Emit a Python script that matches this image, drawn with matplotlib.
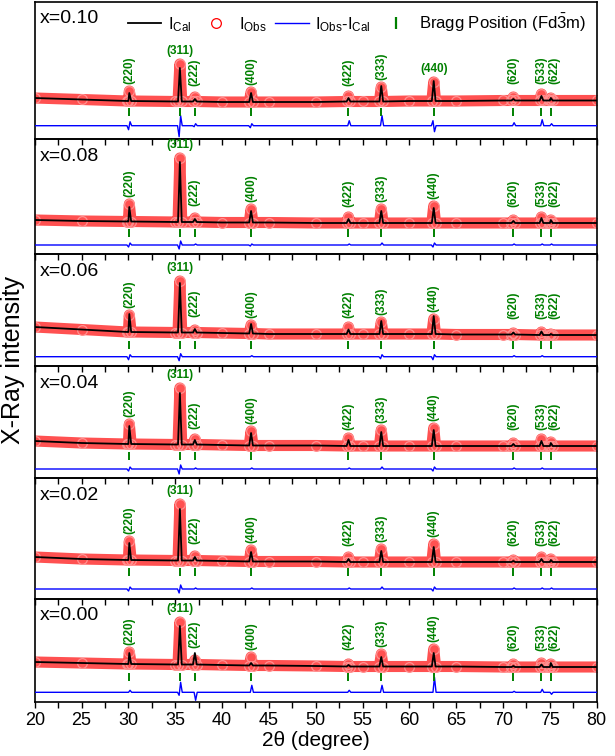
import numpy as np
import matplotlib
matplotlib.use('Agg')
import matplotlib.pyplot as plt
from matplotlib.lines import Line2D
from matplotlib.ticker import MultipleLocator

plt.rcParams['font.family'] = ['Liberation Sans', 'DejaVu Sans']
plt.rcParams['mathtext.fontset'] = 'custom'
plt.rcParams['mathtext.rm'] = 'Liberation Sans'
plt.rcParams['mathtext.it'] = 'Liberation Sans:italic'

# ---- data (intensity in arbitrary units) ----
compositions = ['x=0.10', 'x=0.08', 'x=0.06', 'x=0.04', 'x=0.02', 'x=0.00']

hkl = ['(220)', '(311)', '(222)', '(400)', '(422)', '(333)', '(440)', '(620)', '(533)', '(622)']
bragg_pos = [30.1, 35.5, 37.1, 43.1, 53.5, 57.0, 62.6, 71.1, 74.1, 75.1]

bg_theta = [20, 25, 30, 35, 40, 45, 50, 55, 60, 65, 70, 75, 80]
background = [
    [41, 39.5, 38, 37.5, 37, 37, 37, 37.5, 38, 38, 38.5, 38.5, 38.5],
    [34, 33, 32.5, 32, 31.5, 31.5, 31, 31, 31, 31, 31, 31, 31],
    [39, 36.5, 34, 33.5, 33, 32, 32, 32, 32, 31.5, 31.5, 31, 31],
    [37, 35, 34, 33.5, 33, 32.5, 32.5, 32, 32, 32, 32, 32, 32],
    [42, 40, 39, 38.5, 38, 37.5, 37.5, 37, 37, 37, 37, 37, 37],
    [40, 39, 38, 37.5, 37, 36.5, 36, 35.5, 35.5, 35.5, 35, 35, 35],
]
# background level under each reflection
peak_base = [
    [38, 37.5, 37.5, 37, 37.5, 37.5, 38, 38.5, 38.5, 38.5],
    [32.5, 32, 32, 31.5, 31, 31, 31, 31, 31, 31],
    [34, 33.5, 33.5, 32.5, 32, 32, 32, 31.5, 31, 31],
    [34, 33.5, 33.5, 32.5, 32, 32, 32, 32, 32, 32],
    [39, 38.5, 38.5, 37.5, 37, 37, 37, 37, 37, 37],
    [38, 37.5, 37.5, 36.5, 35.5, 35.5, 35.5, 35, 35, 35],
]
calc_peak = [
    [46, 71, 40, 46, 41, 53, 58, 40, 43, 41],
    [47, 92, 35, 43, 35, 43, 46, 33, 36, 34],
    [52, 83, 37, 42, 36.5, 45, 50, 33.5, 34.5, 32],
    [52, 85, 38, 45, 38, 46, 48, 34, 37, 35],
    [56, 90, 42, 47, 40, 48, 52, 38, 40, 39],
    [49, 76, 49, 39, 37, 45, 49, 36, 37.5, 39],
]
obs_peak = [
    [48, 75, 42, 47, 43, 52, 57, 42, 45, 41],
    [50, 96, 36, 45, 37, 45, 48, 34, 37, 34],
    [51, 85, 36, 41, 39, 44, 47, 33, 34, 32],
    [54, 90, 39, 47, 40, 48, 50, 35, 39, 36],
    [58, 95, 43, 49, 42, 50, 55, 39, 42, 40],
    [50, 80, 42, 45, 38, 48, 53, 38, 39, 38],
]
diff_level = [13.3, 9, 9.3, 9, 10, 9.7]
diff_first = [
    [-4, -11, -1, -2, 0, 0, 5, 0, 0, 0],
    [-2, -4, 0, -1, 0, 0, -2, 0, 0, 0],
    [-3, -4, 0, 0, 0, -2, -3, 0, 0, 0],
    [-2, -5, 0, 0, 0, 0, -2, 0, 0, 0],
    [-2, -4, 0, 0, 0, 0, -2, 0, 0, 0],
    [0, -3, 0, 0, 0, 0, 0, 0, 0, 0],
]
diff_second = [
    [4, 10, 2, 2, 5, 10, -6, 3, 6, 2],
    [2, 4, 1, 1, 1, 2, 2, 1, 1, 1],
    [2, 3, 0, 1, 0, 2, 2, 1, 1, 0],
    [2, 4, 1, 1, 1, 2, 2, 1, 1, 0],
    [2, 4, 1, 1, 1, 2, 2, 1, 1, 1],
    [2, 10, -8, 7, 2, 7, 15, 1, 3, -2],
]

# ---- layout (pixel rows of the panel edges) ----
W, H = 615, 756
edges = [2, 139, 254, 366, 478, 599, 702]
left_px, right_px = 34.7, 596.7
green = '#008000'


def profile(bg_vals, base_vals, peak_vals, hw=0.2):
    x = list(bg_theta)
    y = list(bg_vals)
    for p, b, h in zip(bragg_pos, base_vals, peak_vals):
        x += [p - hw, p, p + hw]
        y += [b, h, b]
    order = np.argsort(x, kind='stable')
    return np.array(x)[order], np.array(y)[order]


def diff_profile(level, first, second):
    x = [20, 80]
    y = [level, level]
    for p, a, b in zip(bragg_pos, first, second):
        x += [p - 0.25, p - 0.08, p + 0.08, p + 0.25]
        y += [level, level + a, level + b, level]
    order = np.argsort(x, kind='stable')
    return np.array(x)[order], np.array(y)[order]


fig = plt.figure(figsize=(W / 100, H / 100), dpi=100)
axes = []
for i in range(6):
    top, bot = edges[i], edges[i + 1]
    ax = fig.add_axes([left_px / W, 1 - bot / H, (right_px - left_px) / W, (bot - top) / H])
    ax.set_facecolor('none')
    axes.append(ax)

    xo, yo = profile(background[i], peak_base[i], obs_peak[i])
    xc, yc = profile(background[i], peak_base[i], calc_peak[i])
    xd, yd = diff_profile(diff_level[i], diff_first[i], diff_second[i])

    # observed points: dense red band of open circles
    ax.plot(xo, yo, color='#ff2020', lw=8, alpha=0.78, solid_capstyle='butt', zorder=1)
    ax.plot(xo, yo, 'o', mfc='none', mec='#ff9090', ms=7, mew=0.9, zorder=2)
    ax.plot(xc, yc, color='black', lw=1.3, zorder=3)
    ax.plot(xd, yd, color='blue', lw=1.0, zorder=3)

    tick_y = min(background[i]) - 10
    ax.plot(bragg_pos, [tick_y] * len(bragg_pos), '|', color=green, ms=6, mew=1.4, zorder=3)

    for j, (p, lab) in enumerate(zip(bragg_pos, hkl)):
        horizontal = lab == '(311)' or (lab == '(440)' and i == 0)
        anchor = max(obs_peak[i][j], peak_base[i][j] + 9)
        dx = 0.35 if lab == '(622)' else 0.0
        ax.annotate(lab, (p + dx, anchor), xytext=(0, 7), textcoords='offset pixels',
                    rotation=0 if horizontal else 90, ha='center', va='bottom',
                    color=green, fontsize=8.5, fontweight='bold', zorder=4,
                    annotation_clip=False)

    ax.annotate(compositions[i], (0, 1), xycoords='axes fraction', xytext=(5, -17),
                textcoords='offset pixels', ha='left', va='center', fontsize=14)

    ax.set_xlim(20, 80)
    ax.set_ylim(0, bot - top)
    ax.set_yticks([])
    ax.xaxis.set_major_locator(MultipleLocator(5))
    ax.xaxis.set_minor_locator(MultipleLocator(2.5))
    ax.tick_params(axis='x', which='both', direction='out', length=4, width=1,
                   labelsize=13, pad=3)
    for s in ax.spines.values():
        s.set_linewidth(1.2)
    if i < 5:
        ax.tick_params(axis='x', labelbottom=False)

handles = [
    Line2D([], [], color='black', lw=1.3),
    Line2D([], [], ls='none', marker='o', mfc='none', mec='red', ms=7, mew=0.9),
    Line2D([], [], color='blue', lw=1.0),
    Line2D([], [], ls='none', marker='|', color=green, ms=9, mew=1.6),
]
labels = [r'I$_{\mathrm{Cal}}$', r'I$_{\mathrm{Obs}}$',
          r'I$_{\mathrm{Obs}}$-I$_{\mathrm{Cal}}$', r'Bragg Position (Fd$\bar{3}$m)']
axes[0].legend(handles, labels, loc='upper right', bbox_to_anchor=(1.0, 1.0), ncol=4,
               frameon=False, fontsize=12, handlelength=2.0, handletextpad=0.4,
               columnspacing=0.5, borderaxespad=0.2)

axes[-1].set_xlabel('2θ (degree)', fontsize=15, labelpad=2)
fig.text(13 / W, 1 - 360 / H, 'X-Ray intensity', rotation=90, ha='center', va='center',
         fontsize=18)

fig.savefig('out.png', dpi=100)
